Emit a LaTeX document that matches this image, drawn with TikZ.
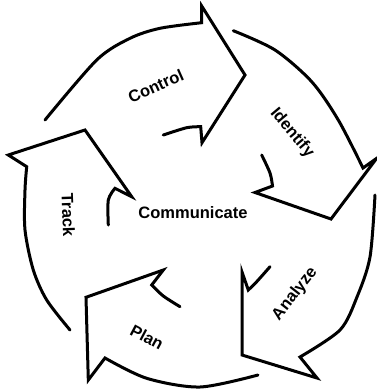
\documentclass[tikz,border=0pt]{standalone}
\usepackage{fontspec}
\setmainfont{Liberation Sans}
\begin{document}
\begin{tikzpicture}[x=1pt,y=-1pt,
  arrowband/.style={draw=black,line width=3pt,line join=miter,line cap=round},
  lbl/.style={font=\fontsize{16.5}{16.5}\selectfont\bfseries,inner sep=0pt}]
\useasboundingbox (0,0) rectangle (377,392);
% Control
\draw[arrowband] plot[smooth] coordinates {(45,120) (96.7,60) (130,38.3) (160,28.3) (201.7,22.7)}
  -- (201.7,6) -- (245,75) -- (202,142.7) -- (200.7,126.7)
  -- plot[smooth] coordinates {(200.7,126.7) (186.7,127.7) (163.3,135)};
% Identify
\draw[arrowband] plot[smooth] coordinates {(233.3,30.7) (275,50) (311.7,81.7) (338.3,120) (363,168)}
  -- (376.7,158.3) -- (331,219) -- (255,192.5) -- (272.5,186)
  -- plot[smooth] coordinates {(272.5,186) (270,173) (261.7,155)};
% Analyze
\draw[arrowband] plot[smooth] coordinates {(375,195) (370,257) (357,297) (340,330) (300,357)}
  -- (317,378) -- (242,355) -- (242,272) -- (248.3,290)
  -- plot[smooth] coordinates {(248.3,290) (256.7,281.7) (270,266.7)};
% Plan
\draw[arrowband] plot[smooth] coordinates {(258,375) (200,387) (146.7,378.3) (105,358)}
  -- (88.3,380) -- (86,297.3) -- (163.3,270) -- (151.7,285)
  -- plot[smooth] coordinates {(151.7,285) (163.3,296) (180,306.7)};
% Track
\draw[arrowband] plot[smooth] coordinates {(70,330) (46.7,300) (33.3,270) (25,230) (25,190) (26.7,166.7)}
  -- (8.3,155) -- (85,130) -- (131.7,196.7) -- (115,188.3)
  -- plot[smooth] coordinates {(115,188.3) (108.3,200) (108.3,225)};
% labels
\node[lbl,rotate=24] (control) at (155.8,85.8) {Control};
\node[lbl,rotate=-50] (identify) at (292,133) {Identify};
\node[lbl,rotate=52] (analyze) at (295,294) {Analyze};
\node[lbl,rotate=-28] (plan) at (147,337) {Plan};
\node[lbl,rotate=-88] (track) at (68.3,215) {Track};
\node[lbl] (communicate) at (193,213) {Communicate};
\end{tikzpicture}
\end{document}
